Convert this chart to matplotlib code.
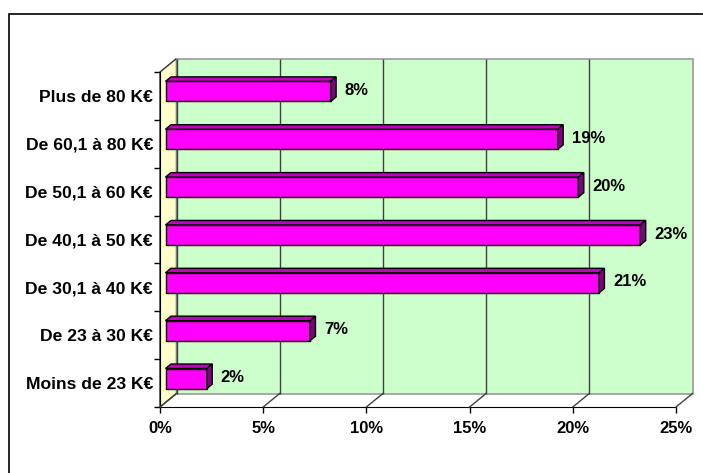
import matplotlib
matplotlib.use("Agg")
import matplotlib.pyplot as plt
from matplotlib.patches import Rectangle, Polygon
from matplotlib.transforms import ScaledTranslation, IdentityTransform
import numpy as np

# data (bottom to top, as drawn)
categories = ["Moins de 23 K€", "De 23 à 30 K€", "De 30,1 à 40 K€", "De 40,1 à 50 K€",
              "De 50,1 à 60 K€", "De 60,1 à 80 K€", "Plus de 80 K€"]
values = [2, 7, 21, 23, 20, 19, 8]
xticks = [0, 5, 10, 15, 20, 25]
xticklabels = ["0%", "5%", "10%", "15%", "20%", "25%"]

plt.rcParams['font.family'] = ['Liberation Sans', 'DejaVu Sans']
plt.rcParams['font.weight'] = 'bold'
plt.rcParams['font.size'] = 12

W, H, DPI = 703, 473, 100
fig = plt.figure(figsize=(W / DPI, H / DPI), dpi=DPI)

# front plane of the 3D box, in pixels
left, right, top, bottom = 160, 676, 72, 407
ax = fig.add_axes([left / W, (H - bottom) / H, (right - left) / W, (bottom - top) / H])
ax.set_xlim(0, 25)
ax.set_ylim(0, len(categories))
ax.set_facecolor('none')

DX, DY = 16.5, 13.5   # full depth offset in pixels


def shifted(frac):
    return ax.transData + ScaledTranslation(DX * frac / DPI, DY * frac / DPI, fig.dpi_scale_trans)


def pt(x, y, frac):
    px, py = ax.transData.transform((x, y))
    return (px + DX * frac, py + DY * frac)


back = shifted(1.0)
n = len(categories)

# back wall + gridlines
ax.add_patch(Rectangle((0, 0), 25, n, transform=back, facecolor='#CCFFCC',
                       edgecolor='#999999', lw=1.2, clip_on=False, zorder=0))
ax.vlines(xticks[:-1], 0, n, transform=back, colors='#404040', lw=1.0, zorder=1, clip_on=False)

# left wall
wall = [pt(0, 0, 0), pt(0, n, 0), pt(0, n, 1), pt(0, 0, 1)]
fig.add_artist(Polygon(wall, closed=True, transform=IdentityTransform(),
                       facecolor='#FFFFCC', edgecolor='#303030', lw=1.0, zorder=0))

# floor diagonals
for x in xticks:
    (x0, y0), (x1, y1) = pt(x, 0, 0), pt(x, 0, 1)
    fig.add_artist(plt.Line2D([x0, x1], [y0, y1], transform=IdentityTransform(),
                              color='#404040', lw=1.0))

# bars
h = 0.42
for i, v in enumerate(values):
    y0, y1 = i + 0.5 - h / 2, i + 0.5 + h / 2
    ax.add_patch(Rectangle((0, y0), v, h, transform=shifted(1 / 3), facecolor='#FF00FF',
                           edgecolor='black', lw=1.0, zorder=3, clip_on=False))
    topf = [pt(0, y1, 1 / 3), pt(v, y1, 1 / 3), pt(v, y1, 2 / 3), pt(0, y1, 2 / 3)]
    side = [pt(v, y0, 1 / 3), pt(v, y1, 1 / 3), pt(v, y1, 2 / 3), pt(v, y0, 2 / 3)]
    fig.add_artist(Polygon(topf, closed=True, transform=IdentityTransform(),
                           facecolor='#C000C0', edgecolor='black', lw=1.0, zorder=3))
    fig.add_artist(Polygon(side, closed=True, transform=IdentityTransform(),
                           facecolor='#800080', edgecolor='black', lw=1.0, zorder=3))
    lx, ly = pt(v, i + 0.5, 1 / 3)
    fig.text((lx + 14) / W, (ly + 1) / H, f"{v}%", ha='left', va='center',
             fontweight='bold', fontsize=12)

# axes styling
for s in ['top', 'right']:
    ax.spines[s].set_visible(False)
ax.spines['left'].set_color('black')
ax.spines['bottom'].set_color('black')
ax.spines['left'].set_zorder(5)
ax.set_xticks(xticks)
ax.set_xticklabels(xticklabels)
ax.tick_params(axis='x', direction='out', length=4.3, pad=5.8, width=1)
ax.set_yticks(np.arange(n + 1))
ax.set_yticklabels([])
ax.tick_params(axis='y', which='major', direction='out', length=4.3, width=1)
ax.set_yticks(np.arange(n) + 0.5, minor=True)
ax.set_yticklabels(categories, minor=True)
ax.tick_params(axis='y', which='minor', length=0, pad=5)
for lab in ax.get_xticklabels():
    lab.set_fontweight('bold')
for lab in ax.get_yticklabels(minor=True):
    lab.set_fontweight('bold')
    lab.set_fontsize(12.6)

# outer border
fig.add_artist(Rectangle((9 / W, -0.1), 1.2, (H - 14) / H + 0.1, transform=fig.transFigure,
                         fill=False, edgecolor='black', lw=1.2))

fig.savefig("out.png", dpi=DPI)
